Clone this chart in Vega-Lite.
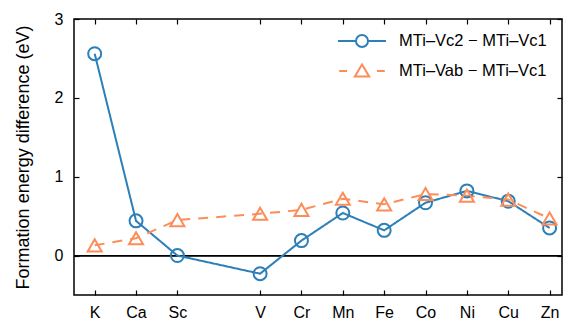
{
  "$schema": "https://vega.github.io/schema/vega-lite/v6.json",
  "width": 488,
  "height": 276,
  "autosize": {"type": "none"},
  "padding": {"left": 74, "top": 19, "right": 1, "bottom": 25},
  "config": {
    "view": {"stroke": "black", "strokeWidth": 1.5},
    "font": "Liberation Sans",
    "axis": {
      "grid": false,
      "domain": false,
      "labelFont": "Liberation Sans",
      "labelFontSize": 16,
      "labelColor": "black",
      "titleFont": "Liberation Sans",
      "titleFontSize": 18,
      "titleFontWeight": "normal",
      "titleColor": "black"
    },
    "legend": {
      "labelFont": "Liberation Sans",
      "labelFontSize": 16.5,
      "labelColor": "black"
    }
  },
  "datasets": {
    "d": [
      {"element": "K", "Z": 19, "series": "MTi–Vc2 − MTi–Vc1", "value": 2.56},
      {"element": "Ca", "Z": 20, "series": "MTi–Vc2 − MTi–Vc1", "value": 0.44},
      {"element": "Sc", "Z": 21, "series": "MTi–Vc2 − MTi–Vc1", "value": 0.0},
      {"element": "V", "Z": 23, "series": "MTi–Vc2 − MTi–Vc1", "value": -0.23},
      {"element": "Cr", "Z": 24, "series": "MTi–Vc2 − MTi–Vc1", "value": 0.19},
      {"element": "Mn", "Z": 25, "series": "MTi–Vc2 − MTi–Vc1", "value": 0.54},
      {"element": "Fe", "Z": 26, "series": "MTi–Vc2 − MTi–Vc1", "value": 0.32},
      {"element": "Co", "Z": 27, "series": "MTi–Vc2 − MTi–Vc1", "value": 0.67},
      {"element": "Ni", "Z": 28, "series": "MTi–Vc2 − MTi–Vc1", "value": 0.82},
      {"element": "Cu", "Z": 29, "series": "MTi–Vc2 − MTi–Vc1", "value": 0.69},
      {"element": "Zn", "Z": 30, "series": "MTi–Vc2 − MTi–Vc1", "value": 0.35},
      {"element": "K", "Z": 19, "series": "MTi–Vab − MTi–Vc1", "value": 0.13},
      {"element": "Ca", "Z": 20, "series": "MTi–Vab − MTi–Vc1", "value": 0.22},
      {"element": "Sc", "Z": 21, "series": "MTi–Vab − MTi–Vc1", "value": 0.45},
      {"element": "V", "Z": 23, "series": "MTi–Vab − MTi–Vc1", "value": 0.53},
      {"element": "Cr", "Z": 24, "series": "MTi–Vab − MTi–Vc1", "value": 0.58},
      {"element": "Mn", "Z": 25, "series": "MTi–Vab − MTi–Vc1", "value": 0.72},
      {"element": "Fe", "Z": 26, "series": "MTi–Vab − MTi–Vc1", "value": 0.65},
      {"element": "Co", "Z": 27, "series": "MTi–Vab − MTi–Vc1", "value": 0.78},
      {"element": "Ni", "Z": 28, "series": "MTi–Vab − MTi–Vc1", "value": 0.76},
      {"element": "Cu", "Z": 29, "series": "MTi–Vab − MTi–Vc1", "value": 0.71},
      {"element": "Zn", "Z": 30, "series": "MTi–Vab − MTi–Vc1", "value": 0.47}
    ]
  },
  "data": {"name": "d"},
  "layer": [
    {
      "mark": {"type": "rule", "color": "black", "strokeWidth": 1},
      "encoding": {
        "y": {"datum": 0, "type": "quantitative", "axis": null}
      }
    },
    {
      "mark": {"type": "line", "strokeWidth": 2},
      "encoding": {
        "x": {
          "field": "Z", "type": "quantitative",
          "scale": {"domain": [18.5, 30.3], "nice": false, "zero": false},
          "axis": {
            "values": [19, 20, 21, 23, 24, 25, 26, 27, 28, 29, 30],
            "labelExpr": "['K','Ca','Sc','Ti','V','Cr','Mn','Fe','Co','Ni','Cu','Zn'][datum.value - 19]",
            "title": null,
            "ticks": true,
            "tickSize": -5,
            "tickWidth": 1.2,
            "tickColor": "black",
            "zindex": 2,
            "labelPadding": 14
          }
        },
        "y": {
          "field": "value", "type": "quantitative",
          "scale": {"domain": [-0.5, 3], "nice": false, "zero": false},
          "axis": {
            "values": [0, 1, 2, 3],
            "title": "Formation energy difference (eV)",
            "ticks": true,
            "tickSize": -5,
            "tickWidth": 1.2,
            "tickColor": "black",
            "zindex": 2,
            "labelPadding": 16,
            "titlePadding": 22
          }
        },
        "color": {
          "field": "series", "type": "nominal",
          "scale": {"domain": ["MTi–Vc2 − MTi–Vc1", "MTi–Vab − MTi–Vc1"], "range": ["#2c7fb8", "#fc8d59"]},
          "legend": null
        },
        "strokeDash": {
          "field": "series", "type": "nominal",
          "scale": {"domain": ["MTi–Vc2 − MTi–Vc1", "MTi–Vab − MTi–Vc1"], "range": [[1, 0], [10, 8]]},
          "legend": null
        }
      }
    },
    {
      "transform": [{"filter": "indexof(datum.series, 'c2') >= 0"}],
      "mark": {"type": "point", "shape": "circle", "filled": false, "size": 169, "strokeWidth": 2, "opacity": 1},
      "encoding": {
        "x": {"field": "Z", "type": "quantitative", "axis": null},
        "y": {"field": "value", "type": "quantitative", "axis": null},
        "color": {"field": "series", "type": "nominal", "legend": null}
      }
    },
    {
      "transform": [{"filter": "indexof(datum.series, 'ab') >= 0"}],
      "mark": {"type": "point", "shape": "triangle-up", "filled": false, "size": 196, "strokeWidth": 2, "opacity": 1},
      "encoding": {
        "x": {"field": "Z", "type": "quantitative", "axis": null},
        "y": {"field": "value", "type": "quantitative", "axis": null},
        "color": {"field": "series", "type": "nominal", "legend": null}
      }
    },
    {
      "transform": [{"filter": "false"}],
      "mark": {"type": "point", "filled": false, "strokeWidth": 2, "opacity": 1},
      "encoding": {
        "x": {
          "field": "Z", "type": "quantitative",
          "axis": {"orient": "top", "values": [19, 20, 21, 23, 24, 25, 26, 27, 28, 29, 30], "labels": false, "title": null, "ticks": true, "tickSize": -5, "tickWidth": 1.2, "tickColor": "black", "zindex": 2}
        },
        "y": {
          "field": "value", "type": "quantitative",
          "axis": {"orient": "right", "values": [0, 1, 2, 3], "labels": false, "title": null, "ticks": true, "tickSize": -5, "tickWidth": 1.2, "tickColor": "black", "zindex": 2}
        },
        "color": {
          "field": "series", "type": "nominal",
          "legend": {
            "orient": "none", "legendX": 275, "legendY": 9, "title": null, "padding": 0,
            "labelOffset": 24, "symbolSize": 576, "symbolStrokeWidth": 2, "symbolOpacity": 1,
            "symbolFillColor": "transparent", "rowPadding": 7
          }
        },
        "shape": {
          "field": "series", "type": "nominal",
          "scale": {
            "domain": ["MTi–Vc2 − MTi–Vc1", "MTi–Vab − MTi–Vc1"],
            "range": [
              "M-2,0H-0.5M0.5,0H2M0.5,0A0.5,0.5,0,1,1,-0.5,0A0.5,0.5,0,1,1,0.5,0",
              "M-1.9,0H-1.25M1.25,0H1.9M0,-0.55L-0.6,0.45L0.6,0.45Z"
            ]
          },
          "legend": {
            "orient": "none", "legendX": 275, "legendY": 9, "title": null, "padding": 0,
            "labelOffset": 24, "symbolSize": 576, "symbolStrokeWidth": 2, "symbolOpacity": 1,
            "symbolFillColor": "transparent", "rowPadding": 7
          }
        }
      }
    }
  ],
  "resolve": {
    "axis": {"x": "independent", "y": "independent"},
    "legend": {"color": "independent", "shape": "independent"}
  }
}
